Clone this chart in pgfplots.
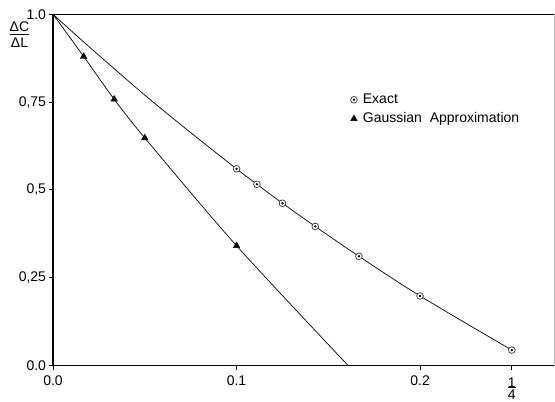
\documentclass[border=0pt]{standalone}
\usepackage{pgfplots}
\pgfplotsset{compat=1.18}
\usepackage{fontspec}
\setmainfont{Liberation Sans}
\pgfdeclareplotmark{odot}{%
  \pgfpathcircle{\pgfpointorigin}{\pgfplotmarksize}\pgfusepathqfillstroke
  \begin{pgfscope}\pgfsetfillcolor{black}%
  \pgfpathcircle{\pgfpointorigin}{0.4\pgfplotmarksize}\pgfusepathqfill\end{pgfscope}}
\begin{document}
\begin{tikzpicture}
\begin{axis}[
  name=ax,
  scale only axis,
  width=358pt, height=251pt,
  xmin=0, xmax=0.273, ymin=0, ymax=1,
  axis x line*=bottom, axis y line*=left,
  axis line style={line width=0.9pt, -},
  tick align=outside, tick style={black, line width=0.6pt},
  major tick length=3pt,
  xtick={0,0.1,0.2,0.25},
  xticklabels={0.0,0.1,0.2,{\begin{tabular}{@{}c@{}}1\\[-4pt]\hline\rule{0pt}{8.5pt}4\end{tabular}}},
  xticklabel style={yshift=-0.5pt},
  ytick={0,0.25,0.5,0.75,1},
  yticklabels={0.0,{0,25},{0,5},{0,75},1.0},
  yticklabel style={xshift=1.5pt},
  ticklabel style={font=\normalsize},
  legend style={draw=none, fill=none, at={(rel axis cs:0.585,0.79)}, anchor=north west, font=\normalsize, row sep=1pt, nodes={inner xsep=4pt}},
  legend cell align=left,
  clip=false,
]
\draw[black, line width=0.7pt] (rel axis cs:0,1) -- (rel axis cs:1,1);
\draw[gray!50, line width=0.5pt] (rel axis cs:1,1) -- (rel axis cs:1,0);
% curves
\addplot[black, line width=0.5pt, smooth, forget plot] coordinates {
 (0,1) (0.0129,0.939) (0.025,0.883) (0.05,0.770) (0.075,0.663) (0.1,0.560) (0.1111,0.516) (0.125,0.462) (0.1429,0.396) (0.1667,0.311) (0.2,0.198) (0.25,0.044)};
\addplot[black, line width=0.5pt, smooth, forget plot] coordinates {
 (0,1) (0.01667,0.880) (0.03333,0.758) (0.05,0.648) (0.1,0.341) (0.1608,0)};
% marks
\addplot[only marks, mark=odot, mark size=2.4pt, mark options={draw=black!80, fill=white, line width=0.5pt}] coordinates {
 (0.1,0.560) (0.1111,0.516) (0.125,0.462) (0.1429,0.396) (0.1667,0.311) (0.2,0.198) (0.25,0.044)};
\addlegendentry{Exact}
\addplot[only marks, mark=triangle*, mark size=2.6pt, mark options={draw=black, fill=black}] coordinates {
 (0.01667,0.880) (0.03333,0.758) (0.05,0.648) (0.1,0.341)};
\addlegendentry{Gaussian\ \ Approximation}
\node[anchor=center, inner sep=0pt] at (rel axis cs:-0.067,0.938) {\begin{tabular}{@{}c@{}}ΔC\\[-2pt]\hline\rule{0pt}{9pt}ΔL\end{tabular}};
\end{axis}
\pgfresetboundingbox
\path[use as bounding box] ([xshift=-37.9pt,yshift=-26pt]ax.south west) rectangle ([xshift=0.7pt,yshift=10.2pt]ax.north east);
\end{tikzpicture}
\end{document}
